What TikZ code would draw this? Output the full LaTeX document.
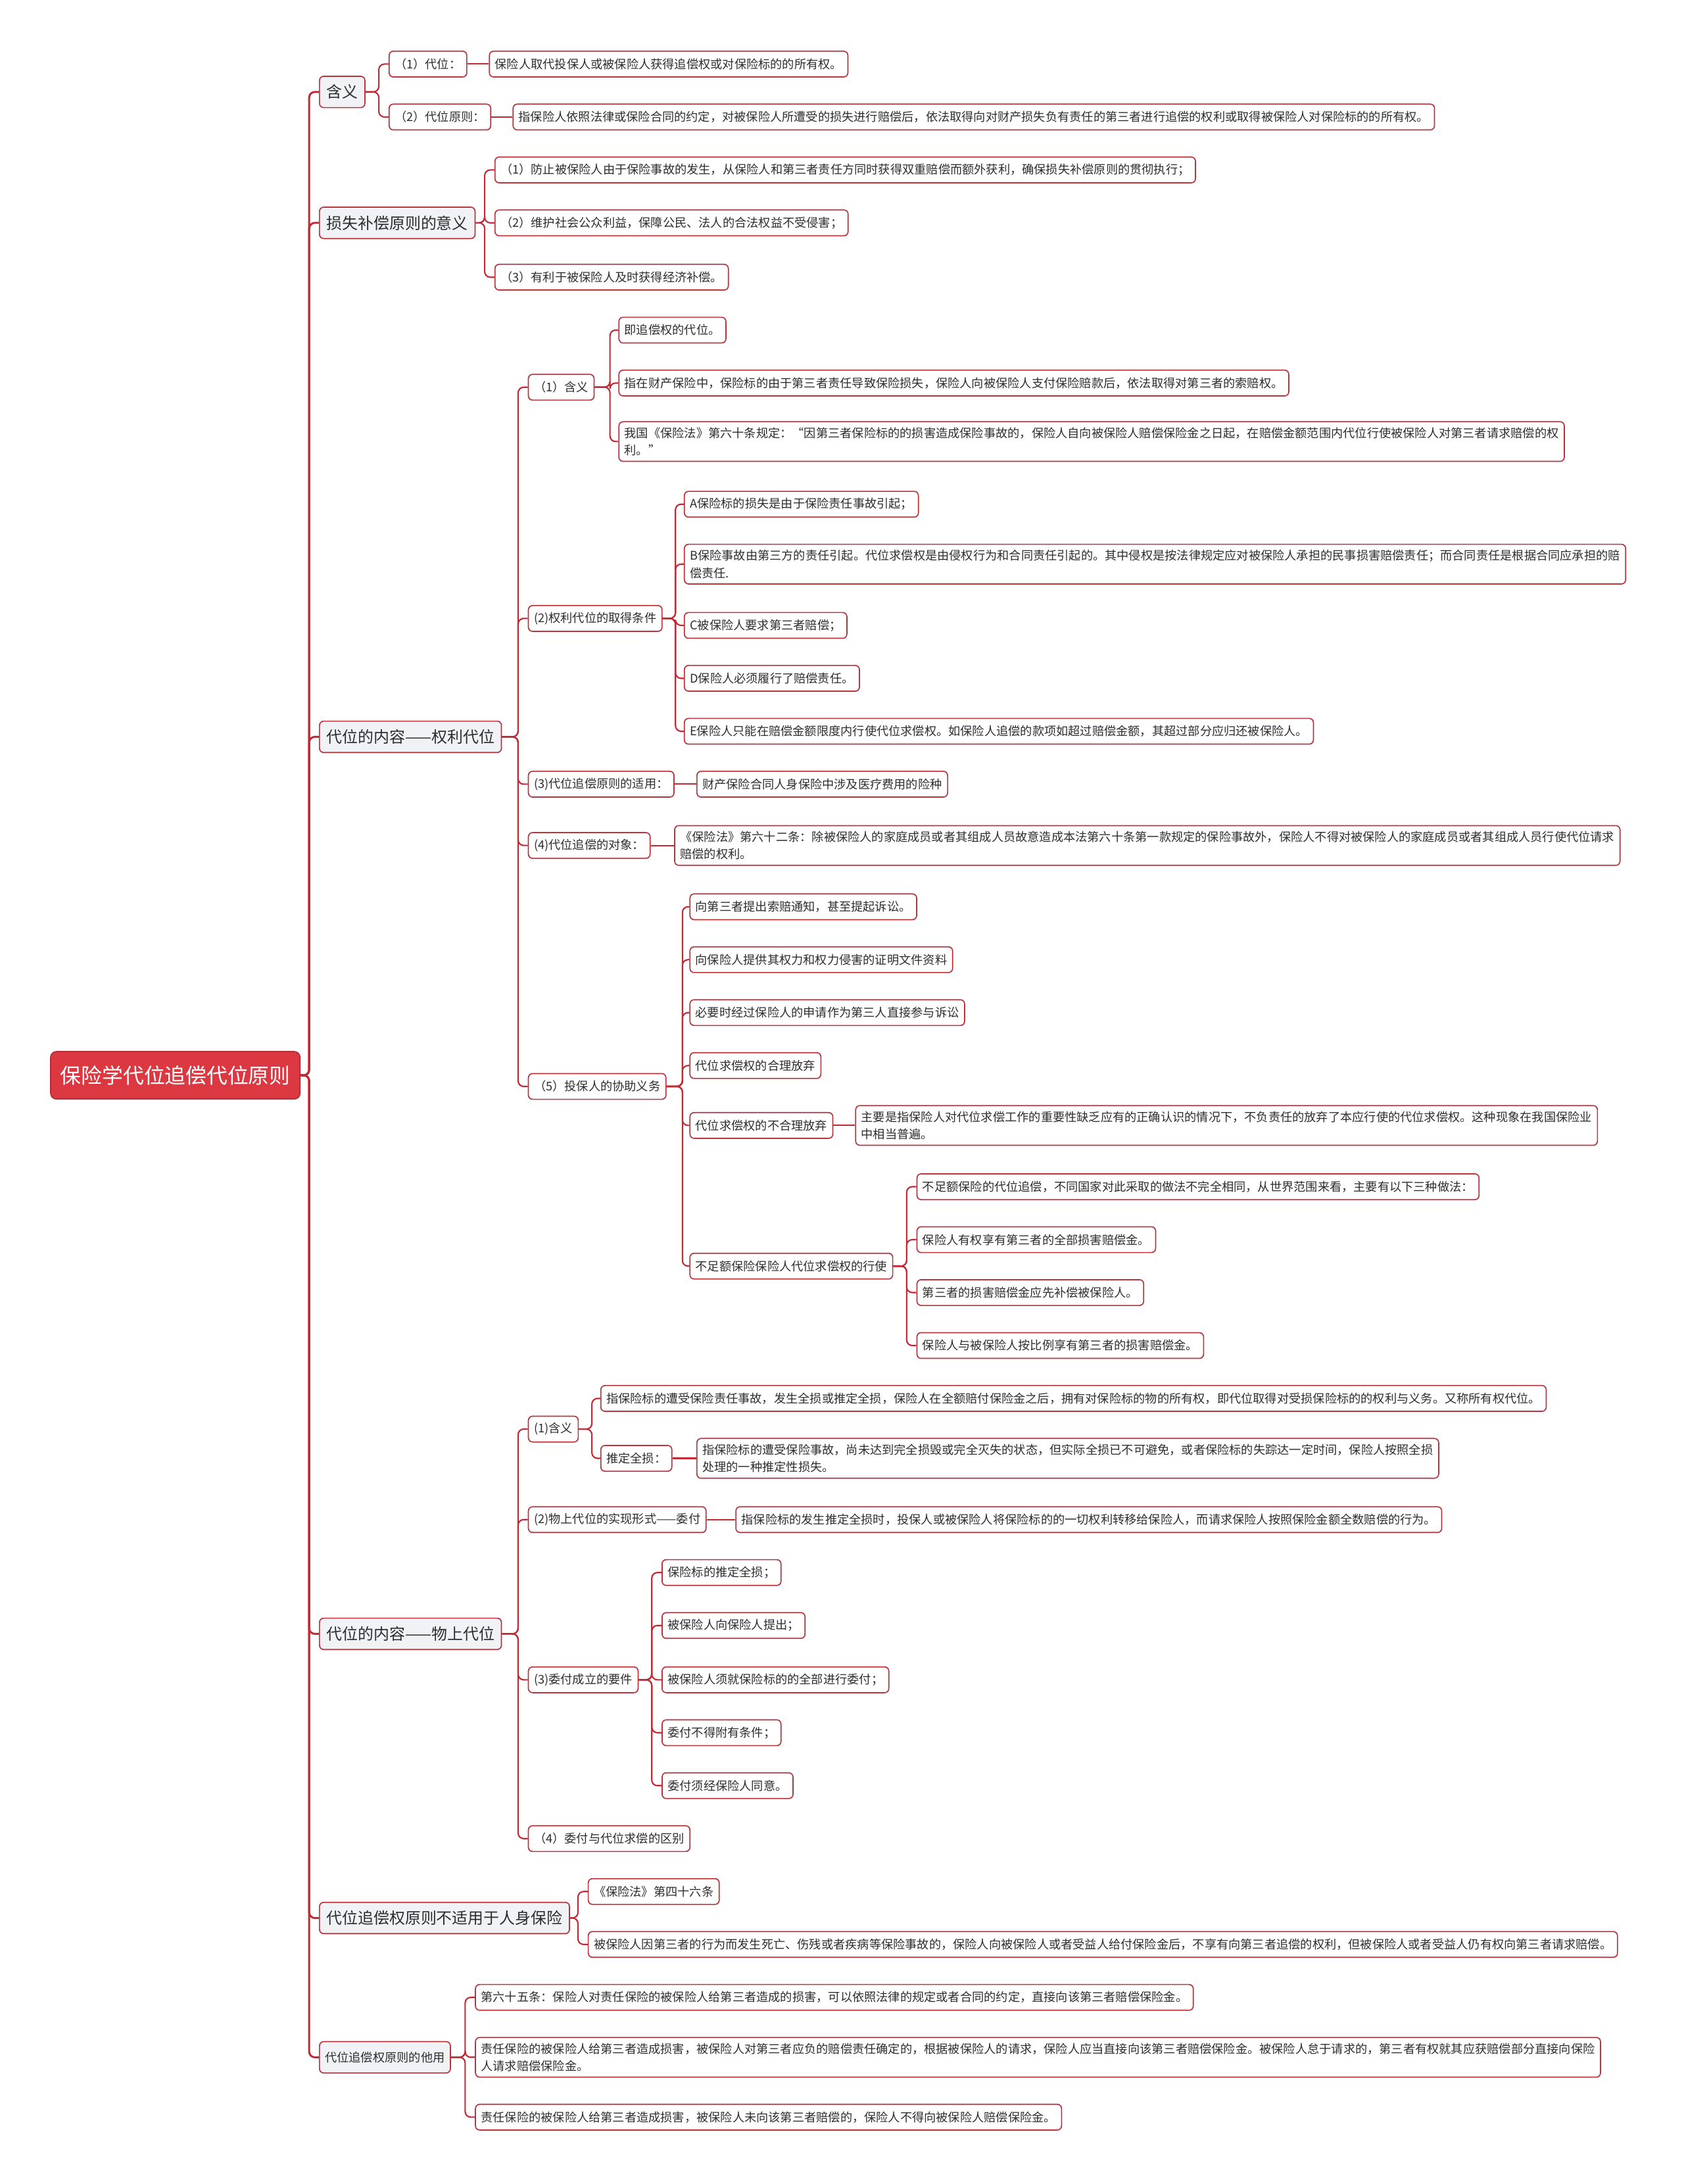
\documentclass[tikz,border=0pt]{standalone}
\usepackage{fontspec}
\setmainfont{Noto Sans CJK SC}
\definecolor{linkred}{RGB}{196,40,52}
\definecolor{boxred}{RGB}{186,52,62}
\definecolor{rootred}{RGB}{219,56,66}
\definecolor{topicgray}{RGB}{240,242,246}
\definecolor{inkgray}{RGB}{45,45,45}
\begin{document}
\begin{tikzpicture}[x=1pt, y=-1pt,
  link/.style={draw=linkred, line width=1pt, rounded corners=4pt},
  trunk/.style={link, line width=1.4pt},
  leaf/.style={draw=boxred, line width=0.8pt, rounded corners=3pt, fill=white, text=inkgray,
    font=\fontsize{8.6}{12.5}\selectfont, inner xsep=4pt, inner ysep=4pt,
    minimum height=18.5pt, anchor=west, align=left},
  topic/.style={leaf, fill=topicgray, font=\fontsize{11.3}{14}\selectfont, inner xsep=5pt, minimum height=22.5pt},
  smalltopic/.style={leaf, fill=topicgray, minimum height=22.5pt},
  rootbox/.style={fill=rootred, draw=rootred!80!black, line width=0.8pt, rounded corners=4pt, text=white,
    font=\fontsize{15}{18}\selectfont, inner xsep=7pt, minimum height=34pt, anchor=west}]
\useasboundingbox (0,0) rectangle (1209,1568);
\node[rootbox] (root) at (36,772) {保险学代位追偿代位原则};
% first level
\node[topic] (hy) at (229,66) {含义};
\node[topic] (ss) at (229,160) {损失补偿原则的意义};
\node[topic] (ql) at (229,529) {代位的内容——权利代位};
\node[topic] (ws) at (229,1173) {代位的内容——物上代位};
\node[topic] (rs) at (229,1377) {代位追偿权原则不适用于人身保险};
\node[smalltopic] (ty) at (229,1477) {代位追偿权原则的他用};
% 含义
\node[leaf] (hy1) at (279,46) {（1）代位：};
\node[leaf] (hy1a) at (351,46) {保险人取代投保人或被保险人获得追偿权或对保险标的的所有权。};
\node[leaf] (hy2) at (279,84) {（2）代位原则：};
\node[leaf] (hy2a) at (368,84) {指保险人依照法律或保险合同的约定，对被保险人所遭受的损失进行赔偿后，依法取得向对财产损失负有责任的第三者进行追偿的权利或取得被保险人对保险标的的所有权。};
% 损失补偿原则的意义
\node[leaf] (ss1) at (355,122) {（1）防止被保险人由于保险事故的发生，从保险人和第三者责任方同时获得双重赔偿而额外获利，确保损失补偿原则的贯彻执行；};
\node[leaf] (ss2) at (355,160) {（2）维护社会公众利益，保障公民、法人的合法权益不受侵害；};
\node[leaf] (ss3) at (355,199) {（3）有利于被保险人及时获得经济补偿。};
% 权利代位
\node[leaf] (q1) at (379,278) {（1）含义};
\node[leaf] (q1a) at (444,237) {即追偿权的代位。};
\node[leaf] (q1b) at (444,275) {指在财产保险中，保险标的由于第三者责任导致保险损失，保险人向被保险人支付保险赔款后，依法取得对第三者的索赔权。};
\node[leaf] (q1c) at (444,317) {我国《保险法》第六十条规定：“因第三者保险标的的损害造成保险事故的，保险人自向被保险人赔偿保险金之日起，在赔偿金额范围内代位行使被保险人对第三者请求赔偿的权\\利。”};
\node[leaf] (q2) at (379,444) {(2)权利代位的取得条件};
\node[leaf] (q2a) at (491,362) {A保险标的损失是由于保险责任事故引起；};
\node[leaf] (q2b) at (491,405) {B保险事故由第三方的责任引起。代位求偿权是由侵权行为和合同责任引起的。其中侵权是按法律规定应对被保险人承担的民事损害赔偿责任；而合同责任是根据合同应承担的赔\\偿责任.};
\node[leaf] (q2c) at (491,449) {C被保险人要求第三者赔偿；};
\node[leaf] (q2d) at (491,487) {D保险人必须履行了赔偿责任。};
\node[leaf] (q2e) at (491,525) {E保险人只能在赔偿金额限度内行使代位求偿权。如保险人追偿的款项如超过赔偿金额，其超过部分应归还被保险人。};
\node[leaf] (q3) at (379,563) {(3)代位追偿原则的适用：};
\node[leaf] (q3a) at (500,563) {财产保险合同人身保险中涉及医疗费用的险种};
\node[leaf] (q4) at (379,607) {(4)代位追偿的对象：};
\node[leaf] (q4a) at (484,607) {《保险法》第六十二条：除被保险人的家庭成员或者其组成人员故意造成本法第六十条第一款规定的保险事故外，保险人不得对被保险人的家庭成员或者其组成人员行使代位请求\\赔偿的权利。};
\node[leaf] (q5) at (379,780) {（5）投保人的协助义务};
\node[leaf] (q5a) at (495,651) {向第三者提出索赔通知，甚至提起诉讼。};
\node[leaf] (q5b) at (495,689) {向保险人提供其权力和权力侵害的证明文件资料};
\node[leaf] (q5c) at (495,727) {必要时经过保险人的申请作为第三人直接参与诉讼};
\node[leaf] (q5d) at (495,765) {代位求偿权的合理放弃};
\node[leaf] (q5e) at (495,808) {代位求偿权的不合理放弃};
\node[leaf] (q5e1) at (614,808) {主要是指保险人对代位求偿工作的重要性缺乏应有的正确认识的情况下，不负责任的放弃了本应行使的代位求偿权。这种现象在我国保险业\\中相当普遍。};
\node[leaf] (q5f) at (495,909) {不足额保险保险人代位求偿权的行使};
\node[leaf] (q5f1) at (658,852) {不足额保险的代位追偿，不同国家对此采取的做法不完全相同，从世界范围来看，主要有以下三种做法：};
\node[leaf] (q5f2) at (658,890) {保险人有权享有第三者的全部损害赔偿金。};
\node[leaf] (q5f3) at (658,928) {第三者的损害赔偿金应先补偿被保险人。};
\node[leaf] (q5f4) at (658,966) {保险人与被保险人按比例享有第三者的损害赔偿金。};
% 物上代位
\node[leaf] (w1) at (379,1026) {(1)含义};
\node[leaf] (w1a) at (431,1004) {指保险标的遭受保险责任事故，发生全损或推定全损，保险人在全额赔付保险金之后，拥有对保险标的物的所有权，即代位取得对受损保险标的的权利与义务。又称所有权代位。};
\node[leaf] (w1b) at (431,1047) {推定全损：};
\node[leaf] (w1b1) at (500,1047) {指保险标的遭受保险事故，尚未达到完全损毁或完全灭失的状态，但实际全损已不可避免，或者保险标的失踪达一定时间，保险人按照全损\\处理的一种推定性损失。};
\node[leaf] (w2) at (379,1091) {(2)物上代位的实现形式——委付};
\node[leaf] (w2a) at (528,1091) {指保险标的发生推定全损时，投保人或被保险人将保险标的的一切权利转移给保险人，而请求保险人按照保险金额全数赔偿的行为。};
\node[leaf] (w3) at (379,1206) {(3)委付成立的要件};
\node[leaf] (w3a) at (475,1129) {保险标的推定全损；};
\node[leaf] (w3b) at (475,1167) {被保险人向保险人提出；};
\node[leaf] (w3c) at (475,1206) {被保险人须就保险标的的全部进行委付；};
\node[leaf] (w3d) at (475,1244) {委付不得附有条件；};
\node[leaf] (w3e) at (475,1282) {委付须经保险人同意。};
\node[leaf] (w4) at (379,1320) {（4）委付与代位求偿的区别};
% 人身保险
\node[leaf] (rs1) at (422,1358) {《保险法》第四十六条};
\node[leaf] (rs2) at (422,1396) {被保险人因第三者的行为而发生死亡、伤残或者疾病等保险事故的，保险人向被保险人或者受益人给付保险金后，不享有向第三者追偿的权利，但被保险人或者受益人仍有权向第三者请求赔偿。};
% 他用
\node[leaf] (ty1) at (341,1434) {第六十五条：保险人对责任保险的被保险人给第三者造成的损害，可以依照法律的规定或者合同的约定，直接向该第三者赔偿保险金。};
\node[leaf] (ty2) at (341,1477) {责任保险的被保险人给第三者造成损害，被保险人对第三者应负的赔偿责任确定的，根据被保险人的请求，保险人应当直接向该第三者赔偿保险金。被保险人怠于请求的，第三者有权就其应获赔偿部分直接向保险\\人请求赔偿保险金。};
\node[leaf] (ty3) at (341,1520) {责任保险的被保险人给第三者造成损害，被保险人未向该第三者赔偿的，保险人不得向被保险人赔偿保险金。};
% connectors
\draw[trunk] (root.east) -| ([xshift=-7pt]hy.west) -- (hy.west);
\draw[trunk] (root.east) -| ([xshift=-7pt]ss.west) -- (ss.west);
\draw[trunk] (root.east) -| ([xshift=-7pt]ql.west) -- (ql.west);
\draw[trunk] (root.east) -| ([xshift=-7pt]ws.west) -- (ws.west);
\draw[trunk] (root.east) -| ([xshift=-7pt]rs.west) -- (rs.west);
\draw[trunk] (root.east) -| ([xshift=-7pt]ty.west) -- (ty.west);
\draw[link] (hy.east) -| ([xshift=-7pt]hy1.west) -- (hy1.west);
\draw[link] (hy.east) -| ([xshift=-7pt]hy2.west) -- (hy2.west);
\draw[link] (hy1.east) -- (hy1a.west);
\draw[link] (hy2.east) -- (hy2a.west);
\draw[link] (ss.east) -| ([xshift=-7pt]ss1.west) -- (ss1.west);
\draw[link] (ss.east) -| ([xshift=-7pt]ss2.west) -- (ss2.west);
\draw[link] (ss.east) -| ([xshift=-7pt]ss3.west) -- (ss3.west);
\draw[link] (ql.east) -| ([xshift=-7pt]q1.west) -- (q1.west);
\draw[link] (ql.east) -| ([xshift=-7pt]q2.west) -- (q2.west);
\draw[link] (ql.east) -| ([xshift=-7pt]q3.west) -- (q3.west);
\draw[link] (ql.east) -| ([xshift=-7pt]q4.west) -- (q4.west);
\draw[link] (ql.east) -| ([xshift=-7pt]q5.west) -- (q5.west);
\draw[link] (q1.east) -| ([xshift=-6pt]q1a.west) -- (q1a.west);
\draw[link] (q1.east) -| ([xshift=-6pt]q1b.west) -- (q1b.west);
\draw[link] (q1.east) -| ([xshift=-6pt]q1c.west) -- (q1c.west);
\draw[link] (q2.east) -| ([xshift=-6pt]q2a.west) -- (q2a.west);
\draw[link] (q2.east) -| ([xshift=-6pt]q2b.west) -- (q2b.west);
\draw[link] (q2.east) -| ([xshift=-6pt]q2c.west) -- (q2c.west);
\draw[link] (q2.east) -| ([xshift=-6pt]q2d.west) -- (q2d.west);
\draw[link] (q2.east) -| ([xshift=-6pt]q2e.west) -- (q2e.west);
\draw[link] (q3.east) -- (q3a.west);
\draw[link] (q4.east) -- (q4a.west);
\draw[link] (q5.east) -| ([xshift=-5pt]q5a.west) -- (q5a.west);
\draw[link] (q5.east) -| ([xshift=-5pt]q5b.west) -- (q5b.west);
\draw[link] (q5.east) -| ([xshift=-5pt]q5c.west) -- (q5c.west);
\draw[link] (q5.east) -| ([xshift=-5pt]q5d.west) -- (q5d.west);
\draw[link] (q5.east) -| ([xshift=-5pt]q5e.west) -- (q5e.west);
\draw[link] (q5.east) -| ([xshift=-5pt]q5f.west) -- (q5f.west);
\draw[link] (q5e.east) -- (q5e1.west);
\draw[link] (q5f.east) -| ([xshift=-7pt]q5f1.west) -- (q5f1.west);
\draw[link] (q5f.east) -| ([xshift=-7pt]q5f2.west) -- (q5f2.west);
\draw[link] (q5f.east) -| ([xshift=-7pt]q5f3.west) -- (q5f3.west);
\draw[link] (q5f.east) -| ([xshift=-7pt]q5f4.west) -- (q5f4.west);
\draw[link] (ws.east) -| ([xshift=-7pt]w1.west) -- (w1.west);
\draw[link] (ws.east) -| ([xshift=-7pt]w2.west) -- (w2.west);
\draw[link] (ws.east) -| ([xshift=-7pt]w3.west) -- (w3.west);
\draw[link] (ws.east) -| ([xshift=-7pt]w4.west) -- (w4.west);
\draw[link] (w1.east) -| ([xshift=-6pt]w1a.west) -- (w1a.west);
\draw[link] (w1.east) -| ([xshift=-6pt]w1b.west) -- (w1b.west);
\draw[link] (w1b.east) -- (w1b1.west);
\draw[link] (w2.east) -- (w2a.west);
\draw[link] (w3.east) -| ([xshift=-7pt]w3a.west) -- (w3a.west);
\draw[link] (w3.east) -| ([xshift=-7pt]w3b.west) -- (w3b.west);
\draw[link] (w3.east) -| ([xshift=-7pt]w3c.west) -- (w3c.west);
\draw[link] (w3.east) -| ([xshift=-7pt]w3d.west) -- (w3d.west);
\draw[link] (w3.east) -| ([xshift=-7pt]w3e.west) -- (w3e.west);
\draw[link] (rs.east) -| ([xshift=-7pt]rs1.west) -- (rs1.west);
\draw[link] (rs.east) -| ([xshift=-7pt]rs2.west) -- (rs2.west);
\draw[link] (ty.east) -| ([xshift=-7pt]ty1.west) -- (ty1.west);
\draw[link] (ty.east) -| ([xshift=-7pt]ty2.west) -- (ty2.west);
\draw[link] (ty.east) -| ([xshift=-7pt]ty3.west) -- (ty3.west);
\end{tikzpicture}
\end{document}
